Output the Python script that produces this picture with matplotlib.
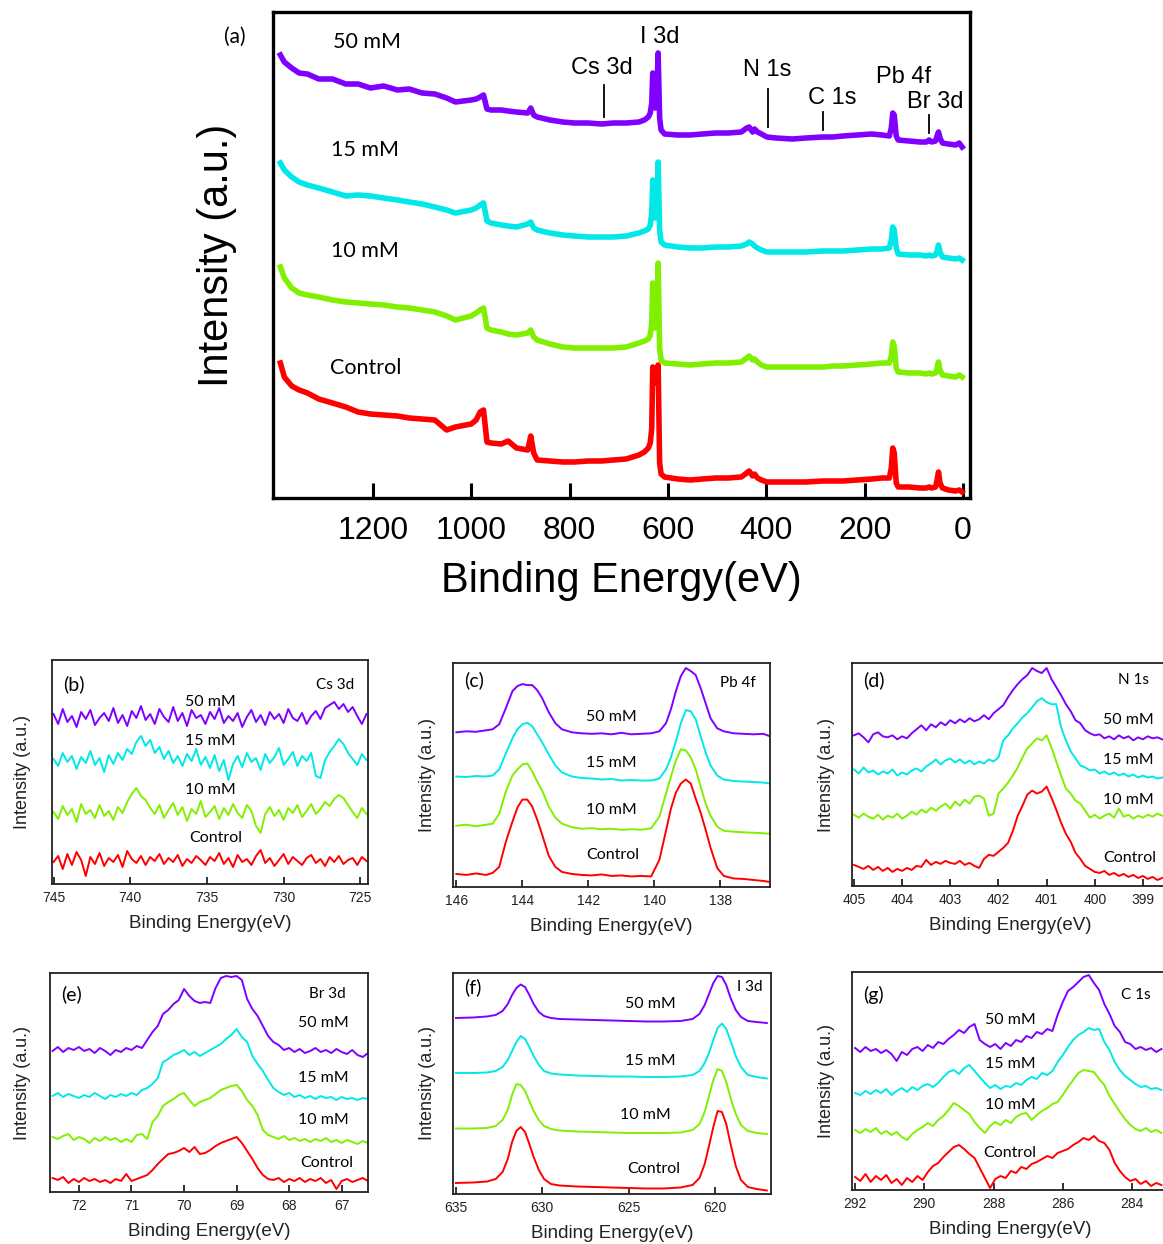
import numpy as np
import matplotlib
matplotlib.use('Agg')
import matplotlib.pyplot as plt

W, H = 1163, 1244

LABELS = ['50 mM', '15 mM', '10 mM', 'Control']
COLORS = ['#8000ff', '#00e8e8', '#80f000', '#ff0000']

# ---- (a) survey spectra ----
SURVEY_EV = [1388, 1380, 1365, 1350, 1333, 1310, 1282, 1255, 1230, 1205, 1178, 1150, 1126, 1100,
             1074, 1050, 1032, 1000, 990, 982, 975,
             968, 960, 939, 925, 908, 885, 879, 873, 866, 840, 814, 790, 762, 735, 711, 685, 659,
             648, 640, 636, 633, 631, 629, 626, 623, 620, 617, 614, 607, 580, 555, 530, 503, 477,
             451, 440, 435, 428, 424, 418, 410, 399, 380, 347, 320, 285, 265, 244, 215, 186, 165,
             150, 146, 143, 140, 136, 132, 110, 88, 75, 69, 64, 56, 53, 50, 47, 42, 30, 15, 8, 2]
SURVEY_50 = [443, 436, 430, 425, 424, 419, 419, 414, 414, 410, 412, 408, 409, 405,
             404, 400, 396, 398, 399, 401, 403,
             389, 388, 388, 387, 386, 385, 390, 383, 381, 378, 376, 375, 375, 374, 375, 375, 376,
             378, 381, 385, 395, 425, 395, 390, 400, 445, 380, 368, 364, 363, 363, 364, 365, 365,
             366, 370, 371, 366, 369, 366, 364, 361, 360, 359, 360, 361, 361, 362, 363, 364, 363,
             362, 370, 385, 383, 362, 358, 357, 356, 356, 358, 356, 357, 362, 366, 360, 355, 354, 353, 355, 351]
SURVEY_15 = [335, 328, 321, 316, 313, 310, 306, 302, 303, 302, 300, 298, 296, 294,
             291, 288, 285, 288, 290, 293, 295,
             277, 275, 273, 272, 271, 274, 276, 270, 268, 265, 263, 262, 261, 261, 261, 262, 265,
             267, 269, 273, 285, 318, 285, 280, 290, 336, 268, 256, 253, 251, 250, 250, 251, 251,
             252, 254, 256, 254, 252, 250, 248, 246, 246, 246, 246, 247, 247, 247, 248, 249, 249,
             250, 258, 271, 268, 250, 244, 243, 243, 242, 243, 242, 243, 247, 253, 246, 241, 240, 239, 240, 238]
SURVEY_10 = [231, 220, 210, 205, 203, 201, 198, 196, 195, 194, 193, 191, 190, 188,
             186, 182, 178, 182, 185, 188, 190,
             170, 168, 166, 164, 163, 165, 168, 161, 158, 154, 151, 150, 150, 150, 150, 151, 155,
             157, 159, 163, 175, 215, 175, 170, 180, 235, 150, 138, 135, 134, 133, 134, 135, 135,
             136, 140, 142, 138, 139, 136, 133, 131, 131, 131, 131, 131, 132, 132, 133, 134, 135,
             135, 142, 156, 152, 130, 126, 125, 125, 124, 125, 124, 125, 130, 136, 128, 123, 122, 121, 123, 121]
SURVEY_CTRL = [135, 121, 112, 108, 105, 99, 95, 91, 86, 84, 83, 82, 80, 79,
               78, 68, 71, 74, 78, 86, 88,
               56, 55, 54, 57, 50, 48, 62, 45, 38, 37, 36, 36, 37, 37, 38, 39, 43,
               46, 50, 55, 70, 131, 120, 115, 120, 133, 35, 24, 21, 19, 18, 19, 20, 20,
               21, 25, 27, 22, 24, 20, 18, 16, 16, 16, 16, 17, 17, 17, 18, 19, 20,
               20, 30, 50, 45, 15, 11, 11, 10, 10, 11, 10, 11, 18, 26, 15, 10, 8, 7, 8, 6]

# ---- (b) Cs 3d, 745 -> 724.6 eV ----
CS_RANGE = (745.0, 724.6)
CS_50 = [170, 160, 175, 162, 168, 157, 172, 165, 174, 159, 166, 171, 163, 176, 161, 169, 158, 173,
         166, 178, 164, 170, 160, 175, 167, 162, 177, 163, 171, 158, 174, 166, 169, 160, 172, 165,
         176, 161, 168, 163, 171, 157, 167, 174, 162, 169, 159, 172, 165, 170, 161, 175, 166, 163,
         171, 160, 168, 173, 165, 176, 179, 182, 175, 180, 172, 177, 168, 160, 170]
CS_15 = [125, 118, 131, 122, 128, 115, 127, 121, 133, 119, 126, 112, 129, 120, 131, 124, 135, 130,
         142, 148, 138, 144, 131, 137, 125, 133, 121, 128, 118, 130, 123, 135, 119, 127, 116, 129,
         113, 124, 104, 120, 128, 117, 131, 122, 126, 114, 130, 121, 127, 136, 119, 125, 132, 118,
         128, 123, 131, 108, 106, 124, 132, 138, 145, 140, 131, 125, 119, 130, 124]
CS_10 = [72, 65, 78, 69, 75, 62, 80, 70, 74, 66, 79, 68, 73, 64, 77, 71, 82, 90, 96, 88, 84, 76,
         70, 79, 66, 74, 81, 69, 77, 63, 75, 70, 83, 67, 72, 78, 65, 76, 69, 80, 71, 66, 79, 73,
         58, 51, 70, 77, 68, 74, 64, 76, 71, 79, 67, 73, 80, 70, 75, 82, 78, 85, 89, 86, 79, 72,
         66, 76, 70]
CS_CTRL = [22, 28, 15, 30, 19, 32, 24, 8, 27, 20, 31, 18, 26, 22, 29, 17, 33, 25, 21, 28, 19, 27,
           23, 30, 20, 26, 22, 29, 18, 25, 21, 28, 24, 19, 27, 23, 31, 20, 26, 17, 29, 22, 25, 19,
           28, 34, 21, 26, 18, 24, 30, 20, 27, 23, 19, 26, 29, 21, 25, 18, 27, 22, 28, 20, 24, 26,
           19, 27, 23]

# ---- (c) Pb 4f ----
PB_EV = [146.0, 145.7, 145.4, 145.1, 144.9, 144.7, 144.5, 144.3, 144.15, 144.0, 143.85, 143.7,
         143.55, 143.4, 143.2, 143.0, 142.8, 142.5, 142.2, 141.9, 141.6, 141.3, 141.0, 140.7,
         140.4, 140.1, 139.85, 139.65, 139.5, 139.35, 139.2, 139.05, 138.9, 138.75, 138.6,
         138.45, 138.3, 138.1, 137.9, 137.6, 137.3, 137.0, 136.7, 136.5]
PB_50 = [154, 155, 154.5, 156, 157, 162, 178, 195, 200, 202, 201, 201, 196, 188, 174, 163, 157,
         154, 153, 152.5, 153, 152, 153.5, 152, 152.5, 153, 155, 163, 177, 195, 210, 218, 215,
         211, 198, 183, 168, 158, 155, 153, 152.5, 152, 152.5, 150]
PB_15 = [110, 109.5, 110.5, 110, 111, 117, 133, 148, 157, 162, 163.5, 160, 152, 144, 132, 121,
         114, 110, 108.5, 108, 107, 107.5, 106, 106.5, 106, 106, 108, 117, 129, 145, 163, 176,
         175, 167, 150, 134, 121, 111, 107, 105.5, 105, 104.5, 104, 103]
PB_10 = [61, 62, 60.5, 62, 63, 73, 95, 111, 117, 122, 123, 115, 105, 96, 80, 69, 63, 59.5, 58,
         58.5, 57.5, 58, 57, 57.5, 57, 58.5, 70, 93, 110, 126, 137, 136, 129, 117, 100, 83, 71,
         60, 56, 55, 54.5, 54, 53.5, 53]
PB_CTRL = [13, 12, 13.5, 12, 14, 20, 45, 65, 79, 87, 87, 80, 67, 52, 31, 20, 15, 13, 12, 11.5,
           12.5, 11, 11.5, 10.5, 11, 10.5, 27, 56, 78, 94, 103, 107, 103, 88, 74, 57, 39, 19, 11,
           8.5, 8, 7, 6, 5]

# ---- (d) N 1s, 405 -> 398.6 eV ----
N_RANGE = (405.0, 398.6)
N_50 = [150, 152, 148, 143, 151, 153, 149, 148, 150, 146, 149, 147, 152, 156, 160, 155, 161, 158,
        163, 160, 165, 162, 166, 163, 167, 164, 166, 170, 166, 172, 176, 180, 188, 195, 201, 206,
        210, 217, 214, 212, 217, 206, 198, 190, 181, 174, 165, 162, 155, 152, 150, 151, 147, 149,
        146, 150, 147, 149, 145, 148, 146, 149, 147, 148, 146]
N_15 = [116, 112, 118, 113, 115, 111, 114, 112, 116, 110, 113, 111, 115, 117, 114, 119, 122, 126,
        121, 125, 127, 123, 126, 122, 125, 121, 124, 122, 126, 124, 128, 145, 150, 157, 162, 168,
        172, 178, 184, 187, 183, 181, 181, 158, 145, 134, 127, 120, 118, 115, 116, 112, 114, 111,
        113, 110, 112, 109, 111, 108, 110, 108, 109, 107, 108]
N_10 = [71, 68, 72, 69, 67, 71, 66, 70, 68, 72, 67, 70, 74, 71, 76, 73, 78, 75, 79, 82, 77, 84,
        80, 86, 82, 89, 90, 87, 70, 72, 92, 97, 103, 110, 118, 128, 137, 142, 147, 145, 150, 138,
        124, 110, 97, 92, 85, 82, 75, 68, 71, 67, 70, 72, 68, 77, 69, 71, 67, 70, 68, 71, 69, 72, 70]
N_CTRL = [21, 19, 17, 20, 16, 19, 15, 18, 14, 17, 15, 18, 16, 20, 19, 26, 21, 24, 22, 25, 23, 22,
          25, 21, 23, 20, 18, 27, 31, 30, 34, 38, 43, 55, 70, 80, 91, 95, 92, 94, 99, 88, 76, 63,
          52, 44, 33, 27, 20, 17, 14, 13, 15, 11, 13, 10, 12, 9, 11, 8, 10, 7, 9, 6, 8]

# ---- (e) Br 3d, 72.5 -> 66.5 eV ----
BR_RANGE = (72.5, 66.5)
BR_50 = [141, 145, 140, 144, 142, 145, 141, 143, 139, 144, 141, 137, 142, 140, 144, 142, 146, 144,
         152, 160, 166, 178, 182, 188, 192, 203, 196, 191, 189, 190, 189, 204, 214, 216, 215, 216,
         212, 193, 183, 176, 166, 156, 150, 147, 142, 144, 140, 143, 139, 141, 144, 140, 142, 139,
         143, 140, 138, 142, 137, 135, 139]
BR_15 = [96, 99, 95, 98, 96, 94, 97, 95, 99, 96, 93, 97, 95, 98, 96, 99, 97, 102, 104, 108, 114,
         130, 133, 137, 139, 142, 137, 140, 136, 139, 142, 145, 148, 153, 157, 163, 155, 150, 136,
         128, 121, 112, 104, 100, 97, 99, 95, 97, 94, 96, 93, 96, 94, 95, 92, 95, 93, 94, 92, 94, 93]
BR_10 = [55, 53, 56, 58, 52, 55, 53, 49, 54, 51, 55, 52, 54, 50, 53, 50, 57, 58, 53, 70, 76, 86,
         90, 93, 97, 99, 92, 86, 90, 92, 94, 98, 102, 104, 106, 107, 101, 92, 86, 77, 62, 57, 55,
         53, 56, 52, 54, 51, 53, 50, 53, 51, 54, 50, 52, 49, 52, 50, 48, 51, 49]
BR_CTRL = [14, 12, 15, 9, 13, 10, 14, 11, 13, 10, 12, 9, 13, 11, 18, 11, 13, 15, 17, 22, 28, 33,
           38, 39, 41, 44, 40, 45, 38, 39, 42, 46, 49, 51, 53, 55, 49, 41, 33, 24, 17, 13, 12, 14,
           10, 13, 11, 14, 10, 13, 11, 14, 9, 12, 3, 11, 13, 10, 12, 14, 11]

# ---- (f) I 3d ----
I_EV = [635.0, 634.0, 633.2, 632.7, 632.3, 632.0, 631.75, 631.5, 631.25, 631.0, 630.75, 630.5,
        630.2, 629.9, 629.5, 629.0, 628.0, 627.0, 626.0, 625.0, 624.0, 623.0, 622.0, 621.3,
        620.9, 620.6, 620.35, 620.1, 619.85, 619.6, 619.35, 619.1, 618.8, 618.5, 618.1, 617.6, 617.0]
I_50 = [176, 176.5, 177.5, 179, 183, 190, 199, 206, 209.5, 207, 199, 190, 182, 178, 176, 175,
        174.5, 174, 173.5, 173, 172.5, 172.5, 173, 175, 180, 189, 200, 211, 218, 217, 209, 196,
        184, 177, 173, 172, 171]
I_15 = [121, 121, 121.5, 123, 127, 134, 143, 152, 158, 155, 147, 138, 129, 123, 120.5, 119.5,
        118.5, 118, 117.5, 117.5, 117, 117, 117.5, 119, 123, 131, 141, 154, 166, 170.5, 165, 153,
        138, 127, 119, 117, 115.5]
I_10 = [65.5, 65.5, 66, 68, 74, 84, 99, 110, 109, 103, 93, 83, 74, 68, 65, 63.5, 62.5, 62, 61.5,
        61, 61, 61, 61.5, 64, 70, 82, 98, 114, 125, 123, 112, 96, 80, 69, 63, 61, 60]
I_CTRL = [11, 11.5, 12.5, 15, 22, 35, 52, 63, 67, 62, 50, 37, 24, 15, 10, 8.5, 7.5, 7, 6.5, 6,
          5.5, 5.5, 6.5, 9, 16, 30, 48, 67, 83, 82, 70, 50, 28, 14, 7, 5, 3.5]

# ---- (g) C 1s, 292 -> 283.15 eV ----
C_RANGE = (292.0, 283.15)
C_50 = [142, 138, 143, 139, 141, 137, 140, 136, 129, 138, 135, 141, 143, 139, 145, 142, 148, 146,
        151, 155, 160, 157, 163, 166, 150, 146, 143, 146, 141, 147, 144, 150, 148, 154, 152, 158,
        156, 161, 159, 175, 188, 199, 203, 208, 213, 215, 207, 200, 186, 176, 164, 158, 148, 146,
        141, 143, 140, 142, 138, 141]
C_15 = [97, 95, 99, 96, 100, 97, 101, 95, 99, 102, 98, 103, 100, 104, 106, 103, 107, 113, 118,
        120, 116, 122, 125, 119, 113, 107, 102, 105, 101, 104, 103, 107, 105, 110, 113, 111, 117,
        115, 119, 128, 135, 143, 150, 155, 158, 162, 160, 161, 148, 140, 128, 120, 114, 110, 106,
        103, 104, 101, 102, 100]
C_10 = [60, 57, 61, 58, 62, 56, 59, 55, 58, 53, 50, 56, 60, 63, 67, 64, 70, 74, 80, 87, 84, 80,
        76, 68, 62, 57, 64, 68, 65, 70, 67, 73, 76, 77, 70, 75, 79, 82, 86, 88, 95, 103, 110, 117,
        120, 119, 118, 111, 105, 94, 86, 78, 71, 65, 61, 59, 62, 58, 60, 57]
C_CTRL = [13, 9, 16, 8, 14, 10, 15, 7, 11, 5, 12, 8, 14, 10, 18, 24, 27, 33, 38, 43, 45, 41, 36,
          32, 22, 12, 2, 11, 14, 12, 19, 17, 23, 21, 26, 28, 31, 34, 32, 37, 39, 41, 45, 48, 52,
          50, 54, 49, 47, 40, 27, 19, 13, 9, 11, 6, 9, 4, 7, 5]

SANS = ['Liberation Sans', 'DejaVu Sans']
HUMAN = ['Lato', 'DejaVu Sans']
NARROW = ['Liberation Sans Narrow', 'Liberation Sans', 'DejaVu Sans']

plt.rcParams['font.family'] = SANS


def px_axes(fig, left, top, right, bottom):
    return fig.add_axes([left / W, 1 - bottom / H, (right - left) / W, (bottom - top) / H])


fig = plt.figure(figsize=(W / 100, H / 100), dpi=100)

# ---------- main survey panel ----------
ax = px_axes(fig, 273, 12, 970, 498)
for vals, c in zip([SURVEY_50, SURVEY_15, SURVEY_10, SURVEY_CTRL], COLORS):
    ax.plot(SURVEY_EV, vals, color=c, lw=4, solid_joinstyle='round')
ax.set_xlim(1403, -14)
ax.set_ylim(0, 486)
ax.set_yticks([])
ax.set_xticks([1200, 1000, 800, 600, 400, 200, 0])
ax.tick_params(axis='x', direction='in', length=11, width=2.2, labelsize=23, pad=13)
for s in ax.spines.values():
    s.set_linewidth(2.4)
ax.set_xlabel('Binding Energy(eV)', fontsize=30, labelpad=11)
ax.set_ylabel('Intensity (a.u.)', fontsize=30, labelpad=26)

for txt, x, y in [('50 mM', 1212, 456), ('15 mM', 1216, 348), ('10 mM', 1216, 247), ('Control', 1214, 130)]:
    ax.text(x, y, txt, family=HUMAN, fontsize=15.5, ha='center', va='center')
for txt, x, y in [('I 3d', 616, 461), ('Cs 3d', 735, 430), ('N 1s', 398, 428), ('C 1s', 266, 400),
                  ('Pb 4f', 122, 421), ('Br 3d', 57, 396)]:
    ax.text(x, y, txt, family=NARROW, fontsize=17, ha='center', va='center')
for x, y0, y1 in [(731, 381, 413), (397, 371, 409), (285, 368, 386), (69, 365, 383)]:
    ax.plot([x, x], [y0, y1], color='black', lw=1.3)
fig.text(235 / W, 1 - 37 / H, '(a)', family=HUMAN, fontsize=15, ha='center', va='center')

# ---------- detail panels ----------
panels = [
    dict(rect=(52, 660, 368, 884), ev=np.linspace(CS_RANGE[0], CS_RANGE[1], len(CS_50)),
         data=[CS_50, CS_15, CS_10, CS_CTRL], xlim=(745.1, 724.5), ylim=224,
         ticks=[745, 740, 735, 730, 725], tag='(b)', elem='Cs 3d', elem_pos=(0.955, 0.89),
         lab_pos=[(0.50, 0.814), (0.50, 0.639), (0.50, 0.42), (0.517, 0.205)], ypad=15),
    dict(rect=(453, 663, 770, 887), ev=PB_EV, data=[PB_50, PB_15, PB_10, PB_CTRL],
         xlim=(146.1, 136.5), ylim=223, ticks=[146, 144, 142, 140, 138], tag='(c)',
         elem='Pb 4f', elem_pos=(0.955, 0.91),
         lab_pos=[(0.50, 0.761), (0.50, 0.552), (0.50, 0.343), (0.505, 0.145)], ypad=12),
    dict(rect=(852, 663, 1168, 886), ev=np.linspace(N_RANGE[0], N_RANGE[1], len(N_50)),
         data=[N_50, N_15, N_10, N_CTRL], xlim=(405.04, 398.48), ylim=222,
         ticks=[405, 404, 403, 402, 401, 400, 399], tag='(d)', elem='N 1s', elem_pos=(0.94, 0.925),
         lab_pos=[(0.875, 0.745), (0.875, 0.565), (0.875, 0.385), (0.88, 0.126)], ypad=12),
    dict(rect=(50, 973, 368, 1192), ev=np.linspace(BR_RANGE[0], BR_RANGE[1], len(BR_50)),
         data=[BR_50, BR_15, BR_10, BR_CTRL], xlim=(72.55, 66.5), ylim=219,
         ticks=[72, 71, 70, 69, 68, 67], tag='(e)', elem='Br 3d', elem_pos=(0.93, 0.903),
         lab_pos=[(0.86, 0.772), (0.86, 0.522), (0.86, 0.33), (0.871, 0.134)], ypad=14),
    dict(rect=(453, 973, 771, 1194), ev=I_EV, data=[I_50, I_15, I_10, I_CTRL],
         xlim=(635.17, 616.76), ylim=221, ticks=[635, 630, 625, 620], tag='(f)',
         elem='I 3d', elem_pos=(0.975, 0.937),
         lab_pos=[(0.62, 0.861), (0.62, 0.602), (0.606, 0.357), (0.63, 0.111)], ypad=12),
    dict(rect=(852, 972, 1168, 1190), ev=np.linspace(C_RANGE[0], C_RANGE[1], len(C_50)),
         data=[C_50, C_15, C_10, C_CTRL], xlim=(292.09, 282.96), ylim=218,
         ticks=[292, 290, 288, 286, 284], tag='(g)', elem='C 1s', elem_pos=(0.945, 0.893),
         lab_pos=[(0.50, 0.779), (0.50, 0.576), (0.50, 0.389), (0.50, 0.168)], ypad=12),
]

for p in panels:
    a = px_axes(fig, *p['rect'])
    for vals, c in zip(p['data'], COLORS):
        a.plot(p['ev'], vals, color=c, lw=1.4)
    a.set_xlim(*p['xlim'])
    a.set_ylim(0, p['ylim'])
    a.set_yticks([])
    a.set_xticks(p['ticks'])
    a.tick_params(axis='x', direction='in', length=5, width=1.3, labelsize=10, pad=5,
                  colors='#222222')
    for s in a.spines.values():
        s.set_linewidth(1.3)
        s.set_color('#222222')
    a.set_xlabel('Binding Energy(eV)', fontsize=13.5, labelpad=7, color='#222222')
    a.set_ylabel('Intensity (a.u.)', fontsize=13, labelpad=p['ypad'], color='#222222')
    a.text(0.035, p['elem_pos'][1] if p['tag'] != '(c)' else 0.925, p['tag'], transform=a.transAxes,
           family=HUMAN, fontsize=14, ha='left', va='center')
    a.text(p['elem_pos'][0], p['elem_pos'][1], p['elem'], transform=a.transAxes,
           family=HUMAN, fontsize=11, ha='right', va='center')
    for txt, (fx, fy) in zip(LABELS, p['lab_pos']):
        a.text(fx, fy, txt, transform=a.transAxes, family=HUMAN, fontsize=11.5,
               ha='center', va='center')

fig.savefig('out.png', dpi=100)
